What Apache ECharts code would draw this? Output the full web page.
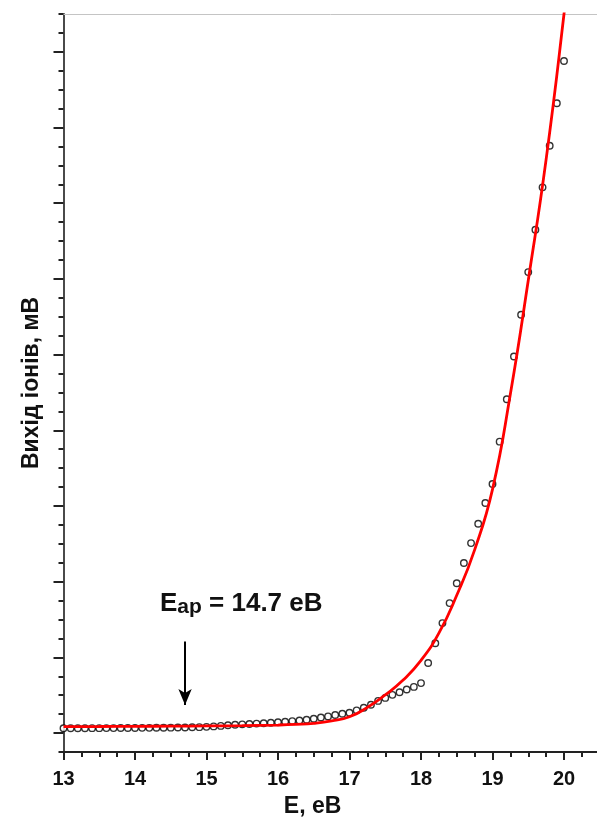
<!DOCTYPE html>
<html>
<head>
<meta charset="utf-8">
<script src="https://cdn.jsdelivr.net/npm/echarts@6/dist/echarts.min.js"></script>
<style>
html,body{margin:0;padding:0;background:#fff;}
#chart{width:597px;height:819px;}
</style>
</head>
<body>
<div id="chart"></div>
<script>
// Measured points: photon energy (eV) and ion yield (arbitrary units, 1 = one major tick)
const energy = [13.0,13.1,13.2,13.3,13.4,13.5,13.6,13.7,13.8,13.9,
  14.0,14.1,14.2,14.3,14.4,14.5,14.6,14.7,14.8,14.9,
  15.0,15.1,15.2,15.3,15.4,15.5,15.6,15.7,15.8,15.9,
  16.0,16.1,16.2,16.3,16.4,16.5,16.6,16.7,16.8,16.9,
  17.0,17.1,17.2,17.3,17.4,17.5,17.6,17.7,17.8,17.9,
  18.0,18.1,18.2,18.3,18.4,18.5,18.6,18.7,18.8,18.9,
  19.0,19.1,19.2,19.3,19.4,19.5,19.6,19.7,19.8,19.9,20.0];
const ionYield = [0.063,0.063,0.064,0.064,0.065,0.065,0.066,0.066,0.067,0.067,
  0.068,0.069,0.069,0.070,0.071,0.072,0.073,0.074,0.076,0.078,
  0.082,0.088,0.095,0.103,0.110,0.115,0.120,0.125,0.130,0.136,
  0.143,0.150,0.158,0.166,0.176,0.190,0.205,0.220,0.238,0.255,
  0.268,0.300,0.335,0.375,0.425,0.465,0.505,0.540,0.575,0.610,
  0.660,0.925,1.186,1.453,1.717,1.980,2.246,2.510,2.765,3.040,
  3.290,3.850,4.410,4.975,5.526,6.090,6.650,7.210,7.760,8.320,8.880];
// Fitted curve
const fitEnergy = [13.0,13.5,14.0,14.5,15.0,15.5,16.0,16.25,16.5,16.75,17.0,17.25,17.5,17.75,18.0,18.25,18.5,18.75,19.0,19.25,19.5,19.75,20.0,20.1];
const fitYield  = [0.086,0.087,0.089,0.091,0.094,0.098,0.106,0.114,0.128,0.160,0.215,0.340,0.505,0.700,0.960,1.320,1.820,2.420,3.220,4.480,5.980,7.580,9.500,10.400];
// Axis ticks
const xMajorTicks = [13,14,15,16,17,18,19,20];
const yMajorTicks = [0,1,2,3,4,5,6,7,8,9];
const appearanceEnergy = 14.7;
const arrowFrom = 1.21, arrowTo = 0.37;

const FONT = '"Liberation Sans", Arial, sans-serif';
const chart = echarts.init(document.getElementById('chart'), null, {renderer:'canvas'});
const grid = {left:63.5, right:-2.75, top:14, bottom:67, containLabel:false, outerBoundsMode:'none'};
const xRange = {min:13, max:20.5};
const yRange = {min:-0.25, max:9.5};

chart.setOption({
  animation:false,
  backgroundColor:'#fff',
  grid: grid,
  xAxis: [
    { type:'value', position:'bottom', ...xRange, interval:0.25,
      axisLine:{show:true, onZero:false, lineStyle:{color:'#222', width:2}},
      axisTick:{show:true, length:5, lineStyle:{color:'#222', width:2}},
      axisLabel:{show:true, customValues:xMajorTicks, margin:17, color:'#111',
        fontFamily:FONT, fontWeight:'bold', fontSize:20},
      splitLine:{show:false},
      name:'E, eB', nameLocation:'middle', nameGap:43,
      nameTextStyle:{fontFamily:FONT, fontWeight:'bold', fontSize:23, color:'#111', padding:[0,38,0,0]}
    },
    { type:'value', position:'bottom', ...xRange,
      axisLine:{show:false, onZero:false},
      axisTick:{show:true, customValues:xMajorTicks, length:8, lineStyle:{color:'#222', width:2}},
      axisLabel:{show:false}, splitLine:{show:false}
    },
    { type:'value', position:'top', ...xRange,
      axisLine:{show:true, onZero:false, lineStyle:{color:'#c4c4c4', width:1}},
      axisTick:{show:false}, axisLabel:{show:false}, splitLine:{show:false}
    }
  ],
  yAxis: [
    { type:'value', position:'left', ...yRange, interval:0.25,
      axisLine:{show:true, onZero:false, lineStyle:{color:'#4a4a4a', width:2}},
      axisTick:{show:true, length:5, lineStyle:{color:'#222', width:2}},
      axisLabel:{show:false}, splitLine:{show:false},
      name:'Вихід іонів, мВ', nameLocation:'middle', nameGap:20, nameRotate:90,
      nameTextStyle:{fontFamily:FONT, fontWeight:'bold', fontSize:23, color:'#111'}
    },
    { type:'value', position:'left', ...yRange,
      axisLine:{show:false, onZero:false},
      axisTick:{show:true, customValues:yMajorTicks, length:10, lineStyle:{color:'#222', width:2}},
      axisLabel:{show:false}, splitLine:{show:false}
    }
  ],
  series: [
    { type:'scatter', xAxisIndex:0, yAxisIndex:0,
      data: energy.map((e,i)=>[e, ionYield[i]]),
      symbol:'circle', symbolSize:6.5,
      itemStyle:{color:'#fff', borderColor:'#000', borderWidth:1.4},
      z:2
    },
    { type:'line', xAxisIndex:0, yAxisIndex:0,
      data: fitEnergy.map((e,i)=>[e, fitYield[i]]),
      showSymbol:false, smooth:0.5, clip:true,
      lineStyle:{color:'#ff0000', width:2.8},
      z:3,
      markLine:{
        silent:true, symbol:['none','arrow'], symbolSize:[10,16],
        lineStyle:{color:'#000', width:2, type:'solid'},
        label:{show:false},
        data:[[{coord:[appearanceEnergy, arrowFrom]},{coord:[appearanceEnergy, arrowTo]}]]
      }
    }
  ],
  graphic: [
    { type:'text', left:160, top:591,
      style:{
        text:'{e|E}{s|ap}{n| = 14.7 eB}',
        rich:{
          e:{fontFamily:FONT, fontWeight:'bold', fontSize:26, fill:'#111'},
          s:{fontFamily:FONT, fontWeight:'bold', fontSize:21, fill:'#111', padding:[6,0,0,0]},
          n:{fontFamily:FONT, fontWeight:'bold', fontSize:26, fill:'#111'}
        }
      }
    }
  ]
});
</script>
</body>
</html>
